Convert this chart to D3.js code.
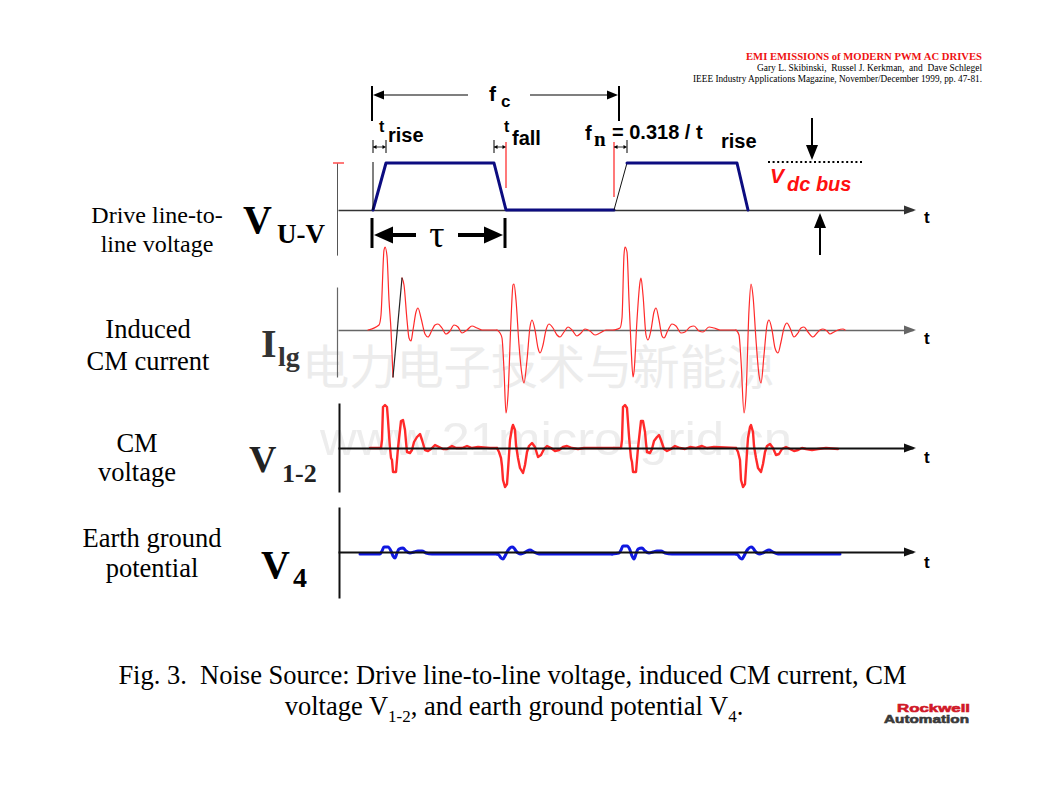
<!DOCTYPE html>
<html><head><meta charset="utf-8">
<script src="https://cdn.jsdelivr.net/npm/d3@7"></script>
<style>body{margin:0;background:#fff}svg{display:block}text{white-space:pre}</style>
</head><body>
<svg id="chart" width="1038" height="796"></svg>
<script>
// ================= DATA (time in ns-like units, amplitudes per panel) =================
const timeDomain = [0, 1150];
// Drive line-to-line voltage, normalised to Vdc bus
const uvBlueA = [[70,0],[96,1],[312,1],[336,0],[552,0]];
const uvThinRise = [[552,0],[578,1]];
const uvBlueB = [[578,1],[798,1],[820,0]];
// Induced CM current (arbitrary units)
const ilgBurst1a = [[60,0],[82,5],[86,15],[92,80],[94,83],[98,74],[102,30],[106,0],[110,-47]];
const ilgBlackSeg = [[110,-47],[128,52]];
const ilgBurst1b = [[128,52],[132,45],[138,10],[142,-8],[146,-11],[150,0],[156,18],[160,22],[166,12],[174,-4],[180,-7],[188,0],[194,5],[200,6],[208,2],[216,-4],[224,-1],[232,5],[240,3],[248,-3],[258,0],[268,4],[278,2],[288,0],[318,0]];
const ilgBurst2 = [[318,0],[324,-3],[328,-8],[332,-40],[336,-83],[340,-65],[346,10],[350,45],[352,46],[356,30],[362,-15],[368,-45],[372,-53],[378,-30],[384,3],[388,10],[394,0],[400,-18],[404,-23],[410,-15],[416,0],[422,6],[430,2],[438,-5],[444,-7],[452,-2],[460,3],[468,0],[478,-6],[486,-3],[494,1],[504,-1],[514,-5],[524,-3],[536,0],[552,0]];
const ilgBurst3 = [[552,0],[564,2],[568,12],[572,75],[574,83],[578,78],[582,30],[586,-15],[590,-47],[592,-42],[598,10],[604,48],[606,52],[610,35],[616,-5],[620,-10],[626,0],[632,18],[636,22],[642,10],[648,-6],[652,-8],[660,0],[668,6],[676,4],[686,-3],[694,-2],[704,3],[712,4],[722,-1],[730,-2],[742,3],[752,2],[764,0],[796,0]];
const ilgBurst4 = [[796,0],[802,-5],[806,-30],[812,-83],[816,-65],[822,20],[826,46],[830,34],[836,-10],[842,-45],[846,-53],[852,-25],[858,5],[862,10],[868,0],[874,-18],[880,-23],[886,-12],[892,2],[898,7],[904,2],[912,-7],[920,-3],[926,2],[932,3],[940,-2],[950,-7],[958,-3],[964,0],[970,1],[978,-1],[984,-4],[992,-2],[1000,0],[1010,1],[1014,0]];
// CM voltage V1-2
const v12Burst1 = [[64,0],[86,0],[88,8],[90,41],[94,43],[98,41],[100,28],[102,13],[104,0],[106,-10],[108,-12],[110,-24],[116,-24],[118,-12],[120,0],[124,18],[126,27],[130,28],[134,18],[136,6],[138,-4],[144,-5],[148,-2],[152,6],[158,11],[164,14],[168,8],[174,-2],[180,-3],[186,-1],[194,3],[202,1],[210,-1],[218,-1],[228,2],[236,0],[248,0],[258,2],[268,0],[280,1],[304,0],[318,0]];
const v12Burst2 = [[318,0],[322,-4],[326,-10],[328,-18],[330,-32],[334,-39],[338,-36],[340,-22],[342,-7],[344,8],[348,20],[350,23],[354,18],[356,3],[360,-10],[364,-20],[370,-25],[374,-17],[378,-4],[382,2],[388,5],[394,1],[400,-9],[406,-7],[412,-1],[418,2],[426,0],[434,-3],[442,-2],[450,1],[458,2],[468,0],[480,-1],[492,0],[524,0],[552,0]];
const v12Burst3 = [[552,0],[566,0],[568,8],[570,41],[574,43],[578,40],[580,26],[582,12],[584,0],[586,-10],[588,-14],[590,-24],[596,-24],[598,-12],[600,0],[604,18],[606,27],[610,27],[614,16],[616,5],[618,-4],[624,-5],[628,-1],[632,7],[638,11],[642,13],[646,8],[652,-1],[658,-3],[666,-1],[674,2],[684,0],[694,-1],[704,1],[716,0],[728,2],[738,0],[752,1],[796,0]];
const v12Burst4 = [[796,0],[800,-4],[804,-12],[806,-32],[810,-39],[814,-36],[816,-20],[818,-4],[820,10],[824,21],[826,23],[830,16],[832,2],[836,-10],[840,-20],[846,-24],[850,-16],[854,-4],[858,2],[864,4],[870,0],[876,-7],[882,-6],[888,-1],[896,1],[904,-1],[912,-3],[920,-2],[928,0],[936,-1],[948,-2],[960,-1],[976,0],[1000,-1]];
// Earth ground potential V4
const v4Burst1 = [[44,-2],[84,-2],[88,1],[92,5],[100,5],[106,1],[110,-4],[114,-6],[118,-1],[122,3],[130,4],[136,1],[144,-1],[152,0],[160,1],[168,1],[176,-1],[188,-2],[280,-2],[318,-2]];
const v4Burst2 = [[318,-2],[322,-3],[326,-6],[330,-7],[334,-4],[338,0],[342,3],[348,5],[352,4],[356,1],[360,-1],[366,-2],[372,-1],[378,1],[384,2],[392,0],[402,-2],[414,-2],[548,-2]];
const v4Burst3 = [[548,-2],[562,-1],[566,2],[570,6],[578,6],[584,2],[588,-4],[592,-7],[596,-2],[600,3],[608,4],[614,1],[622,-1],[630,0],[638,1],[646,1],[654,-1],[668,-2],[796,-2]];
const v4Burst4 = [[796,-2],[800,-3],[804,-6],[808,-7],[812,-4],[816,0],[820,3],[826,5],[830,4],[834,1],[838,-1],[844,-2],[850,-1],[856,1],[862,2],[870,0],[880,-2],[1004,-2]];
// dimension anchors (time units)
const fcSpan = [68, 562];
const tauSpan = [68, 334];
const riseSpan = [70, 96];
const fallSpan = [312, 336];
const fnSpan = [552, 578];
// texts
const headerLines = ["EMI EMISSIONS of MODERN PWM AC DRIVES","Gary L. Skibinski,  Russel J. Kerkman,  and  Dave Schlegel","IEEE Industry Applications Magazine, November/December 1999, pp. 47-81."];
const captionLine1 = "Fig. 3.  Noise Source: Drive line-to-line voltage, induced CM current, CM";
const watermarkCN = "电力电子技术与新能源";
const watermarkURL = "www.21micro-grid.cn";

// ================= DRAW =================
const SERIF = "'Liberation Serif','Times New Roman',serif";
const SANS = "'Liberation Sans',Arial,sans-serif";
const svg = d3.select('#chart');

const x = d3.scaleLinear().domain(timeDomain).range([338, 913]);
const yUV = d3.scaleLinear().domain([0, 1]).range([210, 163]);
const yIlg = d3.scaleLinear().domain([-100, 100]).range([430, 230]);
const yV12 = d3.scaleLinear().domain([-60, 60]).range([508, 388]);
const yV4 = d3.scaleLinear().domain([-40, 40]).range([592, 512]);

function txt(s, px, py, opts) {
  const t = svg.append('text').text(s).attr('x', px).attr('y', py)
    .attr('font-family', opts.ff || SERIF).attr('font-size', opts.fs || 16)
    .attr('fill', opts.fill || '#000');
  if (opts.fw) t.attr('font-weight', opts.fw);
  if (opts.fst) t.attr('font-style', opts.fst);
  if (opts.anchor) t.attr('text-anchor', opts.anchor);
  if (opts.len) t.attr('textLength', opts.len).attr('lengthAdjust', 'spacingAndGlyphs');
  return t;
}
function seg(x1, y1, x2, y2, color, w, dash) {
  const l = svg.append('line').attr('x1', x1).attr('y1', y1).attr('x2', x2).attr('y2', y2)
    .attr('stroke', color).attr('stroke-width', w);
  if (dash) l.attr('stroke-dasharray', dash);
  return l;
}
function arrow(x1, y1, x2, y2, o) {
  const len = o.len || 10, half = o.half || 4, color = o.color || '#000', w = o.w || 1;
  const a = Math.atan2(y2 - y1, x2 - x1);
  const bx = x2 - len * Math.cos(a), by = y2 - len * Math.sin(a);
  const px = -Math.sin(a), py = Math.cos(a);
  if (o.shaft !== false) seg(x1, y1, bx + Math.cos(a), by + Math.sin(a), color, w);
  svg.append('path').attr('d', `M${x2},${y2}L${bx + px * half},${by + py * half}L${bx - px * half},${by - py * half}Z`).attr('fill', color);
}
function trace(data, y, color, w, curve) {
  svg.append('path').datum(data)
    .attr('d', d3.line().x(d => x(d[0])).y(d => y(d[1])).curve(curve || d3.curveLinear))
    .attr('fill', 'none').attr('stroke', color).attr('stroke-width', w)
    .attr('stroke-linejoin', 'round').attr('stroke-linecap', 'round');
}
function hAxis(y, color, w) {
  const g = svg.append('g').attr('transform', `translate(0,${y(0)})`)
    .call(d3.axisBottom(x).tickValues([]).tickSizeOuter(0));
  g.select('.domain').attr('stroke', color).attr('stroke-width', w);
  const tip = x.range()[1] + 3;
  arrow(tip - 12, y(0), tip, y(0), { len: 12, half: 4.5, color: color, shaft: false });
}
function vAxis(y, span, ax, color, w) {
  const s = d3.scaleLinear().domain(span).range(span.map(y));
  const g = svg.append('g').attr('transform', `translate(${ax},0)`)
    .call(d3.axisLeft(s).tickValues([]).tickSizeOuter(0));
  g.select('.domain').attr('stroke', color).attr('stroke-width', w);
}

// watermarks
txt(watermarkCN, 302, 384, { ff: "'Noto Sans CJK SC',sans-serif", fs: 47, fill: '#ececec', len: 472 });
txt(watermarkURL, 320, 455, { ff: SANS, fs: 46, fill: '#ededed', len: 472 });

// header
txt(headerLines[0], 982, 60, { fs: 10.6, fw: 'bold', fill: '#ee1111', anchor: 'end', len: 236 });
txt(headerLines[1], 982, 71, { fs: 9.6, anchor: 'end', len: 225 });
txt(headerLines[2], 982, 81.5, { fs: 9.6, anchor: 'end', len: 289 });

// ---------- Panel 1: V U-V ----------
vAxis(yUV, [-0.96, 1], 337, '#555', 1);
seg(333, yUV(1), 344, yUV(1), '#ff2020', 1.2);
hAxis(yUV, '#333', 1.6);
trace(uvBlueA, yUV, '#0c0c80', 3);
trace(uvThinRise, yUV, '#111', 1);
trace(uvBlueB, yUV, '#0c0c80', 3);

// fc dimension
seg(x(fcSpan[0]), 86, x(fcSpan[0]), 121, '#000', 2);
seg(x(fcSpan[1]), 86, x(fcSpan[1]), 121, '#000', 2);
arrow(468, 95, x(fcSpan[0]) + 1, 95, { len: 11, half: 4.5, w: 1.1 });
arrow(530, 95, x(fcSpan[1]) - 1, 95, { len: 11, half: 4.5, w: 1.1 });
txt('f', 489, 101, { ff: SANS, fs: 21, fw: 'bold' });
txt('c', 501, 107, { ff: SANS, fs: 17, fw: 'bold' });

// small dimension arrows
function smallDim(xa, xb, yy) {
  arrow(xb, yy, xa, yy, { len: 3.5, half: 2, w: 0.8, shaft: false });
  arrow(xa, yy, xb, yy, { len: 3.5, half: 2, w: 0.8 });
}
seg(x(riseSpan[0]), 140, x(riseSpan[0]), 153, '#000', 1);
seg(x(riseSpan[1]), 140, x(riseSpan[1]), 153, '#000', 1);
seg(x(riseSpan[0]), 162, x(riseSpan[0]), yUV(0), '#000', 1);
smallDim(x(riseSpan[0]), x(riseSpan[1]), 147);
seg(x(fallSpan[0]), 140, x(fallSpan[0]), 153, '#000', 1);
seg(x(fallSpan[1]), 142, x(fallSpan[1]), 188, '#ff2020', 1.2);
smallDim(x(fallSpan[0]), x(fallSpan[1]), 147);
seg(x(fnSpan[0]), 142, x(fnSpan[0]), 197, '#ff2020', 1.2);
seg(x(fnSpan[1]), 140, x(fnSpan[1]), 153, '#000', 1);
smallDim(x(fnSpan[0]), x(fnSpan[1]), 147);

txt('t', 379, 132, { ff: SANS, fs: 16, fw: 'bold' });
txt('rise', 388, 142, { ff: SANS, fs: 20, fw: 'bold' });
txt('t', 504, 132, { ff: SANS, fs: 16, fw: 'bold' });
txt('fall', 512, 145, { ff: SANS, fs: 20, fw: 'bold' });
txt('f', 585, 140, { ff: SANS, fs: 20, fw: 'bold' });
txt('n', 594, 146, { ff: SERIF, fs: 21, fw: 'bold' });
txt('= 0.318 / t', 612, 139, { ff: SANS, fs: 20, fw: 'bold' });
txt('rise', 721, 148, { ff: SANS, fs: 20, fw: 'bold' });

// tau dimension
seg(x(tauSpan[0]), 218, x(tauSpan[0]), 248, '#000', 3);
seg(x(tauSpan[1]), 218, x(tauSpan[1]), 248, '#000', 3);
arrow(416, 235, x(tauSpan[0]) + 2, 235, { len: 19, half: 8.5, w: 4 });
arrow(458, 235, x(tauSpan[1]) - 2, 235, { len: 19, half: 8.5, w: 4 });
txt('τ', 437, 247, { ff: SERIF, fs: 38, anchor: 'middle' });

// Vdc bus
seg(768, 162, 863, 162, '#000', 2, '2,2.6');
arrow(812, 118, 812, 160, { len: 15, half: 6, w: 2 });
arrow(820, 255, 820, 213, { len: 15, half: 6, w: 2 });
txt('V', 770, 183, { ff: SANS, fs: 21, fw: 'bold', fst: 'italic', fill: '#ff1010' });
txt('dc bus', 787, 191, { ff: SANS, fs: 20, fw: 'bold', fst: 'italic', fill: '#ff1010' });

// ---------- Panel 2: I lg ----------
vAxis(yIlg, [-47, 43], 337, '#666', 1.2);
hAxis(yIlg, '#666', 1.6);
trace(ilgBurst1a, yIlg, '#ff2a2a', 1.2, d3.curveMonotoneX);
trace(ilgBurst1b, yIlg, '#ff2a2a', 1.2, d3.curveMonotoneX);
trace(ilgBurst2, yIlg, '#ff2a2a', 1.2, d3.curveMonotoneX);
trace(ilgBurst3, yIlg, '#ff2a2a', 1.2, d3.curveMonotoneX);
trace(ilgBurst4, yIlg, '#ff2a2a', 1.2, d3.curveMonotoneX);
trace(ilgBlackSeg, yIlg, '#222', 1.2);

// ---------- Panel 3: V 1-2 ----------
trace(v12Burst1, yV12, '#ff2a2a', 2.4);
trace(v12Burst2, yV12, '#ff2a2a', 2.4);
trace(v12Burst3, yV12, '#ff2a2a', 2.4);
trace(v12Burst4, yV12, '#ff2a2a', 2.4);
vAxis(yV12, [-44, 45], 339, '#111', 2);
hAxis(yV12, '#111', 2);

// ---------- Panel 4: V 4 ----------
trace(v4Burst1, yV4, '#1018e0', 3, d3.curveMonotoneX);
trace(v4Burst2, yV4, '#1018e0', 3, d3.curveMonotoneX);
trace(v4Burst3, yV4, '#1018e0', 3, d3.curveMonotoneX);
trace(v4Burst4, yV4, '#1018e0', 3, d3.curveMonotoneX);
vAxis(yV4, [-46, 45], 339, '#111', 2);
hAxis(yV4, '#111', 2);

// axis 't' labels
[yUV, yIlg, yV12, yV4].forEach((y, i) => {
  txt('t', 924, y(0) + [13, 14, 15, 16][i], { ff: SANS, fs: 17, fw: 'bold' });
});

// ---------- left labels ----------
txt('Drive line-to-', 157, 223, { fs: 24, anchor: 'middle' });
txt('line voltage', 157, 252, { fs: 24, anchor: 'middle' });
txt('V', 243, 233, { fs: 40, fw: 'bold' });
txt('U-V', 277, 243, { fs: 27, fw: 'bold' });

txt('Induced', 148, 338, { fs: 26.5, anchor: 'middle' });
txt('CM current', 148, 370, { fs: 26.5, anchor: 'middle' });
txt('I', 261, 357, { fs: 40, fw: 'bold', fill: '#333' });
txt('lg', 278, 366, { fs: 28, fw: 'bold', fill: '#333' });

txt('CM', 137, 452, { fs: 26.5, anchor: 'middle' });
txt('voltage', 137, 481, { fs: 26.5, anchor: 'middle' });
txt('V', 249, 472, { fs: 38, fw: 'bold', fill: '#222' });
txt('1-2', 282, 482, { fs: 26, fw: 'bold', fill: '#222' });

txt('Earth ground', 152, 547, { fs: 26.5, anchor: 'middle' });
txt('potential', 152, 577, { fs: 26.5, anchor: 'middle' });
txt('V', 261, 578, { fs: 40, fw: 'bold' });
txt('4', 293, 587, { fs: 28, fw: 'bold' });

// ---------- caption ----------
txt(captionLine1, 512.5, 684, { fs: 26.5, anchor: 'middle' });
const c2 = svg.append('text').attr('x', 514).attr('y', 715).attr('text-anchor', 'middle')
  .attr('font-family', SERIF).attr('font-size', 26.5);
c2.append('tspan').text('voltage V');
c2.append('tspan').text('1-2').attr('font-size', 17).attr('dy', 7);
c2.append('tspan').text(', and earth ground potential V').attr('dy', -7);
c2.append('tspan').text('4').attr('font-size', 17).attr('dy', 7);
c2.append('tspan').text('.').attr('dy', -7);

// ---------- logo ----------
txt('Rockwell', 897, 712, { ff: SANS, fs: 11.5, fw: 'bold', fill: '#d01828', len: 73 })
  .attr('stroke', '#d01828').attr('stroke-width', 0.6);
txt('Automation', 884, 722.5, { ff: SANS, fs: 11.5, fw: 'bold', fill: '#3a3a3a', len: 85 })
  .attr('stroke', '#3a3a3a').attr('stroke-width', 0.6);
</script>
</body></html>
